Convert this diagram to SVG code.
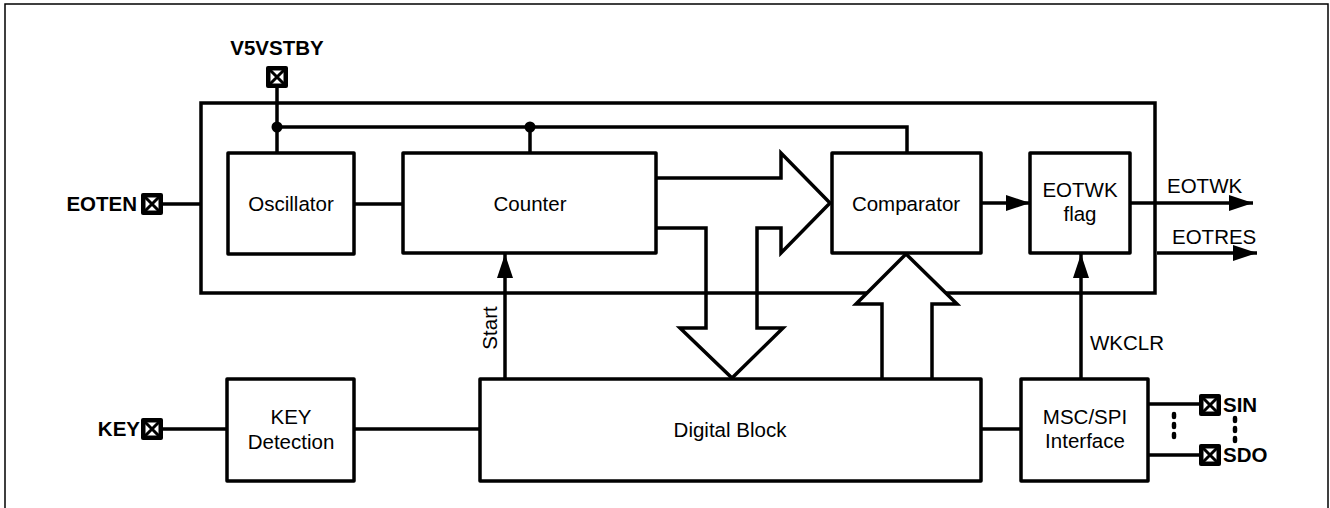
<svg xmlns="http://www.w3.org/2000/svg" width="1330" height="508" viewBox="0 0 1330 508">
<style>
.box{fill:#fff;stroke:#000;stroke-width:3.5;stroke-linejoin:round}
.w{fill:none;stroke:#000;stroke-width:3.5}
.t{font-family:"Liberation Sans",Arial,sans-serif;font-size:20.5px;fill:#000}
.b{font-family:"Liberation Sans",Arial,sans-serif;font-size:20.5px;font-weight:bold;fill:#000}
.m{text-anchor:middle}
.dot{stroke:#000;stroke-width:4.5;stroke-linecap:round;stroke-dasharray:3 7;fill:none}
</style>
<defs>
<marker id="ah" markerUnits="userSpaceOnUse" markerWidth="24" markerHeight="16" refX="24" refY="8" orient="auto" viewBox="0 0 24 16">
<path d="M0,0 L24,8 L0,16 z" fill="#000"/>
</marker>
<g id="pin">
<rect x="-11" y="-11" width="22" height="22" rx="2" fill="#000"/>
<rect x="-6.5" y="-6.5" width="13" height="13" fill="#fff"/>
<path d="M-7,-7 L7,7 M7,-7 L-7,7" stroke="#000" stroke-width="3"/>
</g>
</defs>
<rect width="1330" height="508" fill="#fff"/>
<rect x="5" y="4" width="1323" height="520" fill="none" stroke="#000" stroke-width="1.5"/>

<g id="main-block">
<rect x="201" y="103" width="954" height="190" fill="none" stroke="#000" stroke-width="3.5"/>
</g>

<g id="connectors">
<path class="w" d="M277,88 V153 M277,127 H907 V153 M530,127 V153"/>
<circle cx="277" cy="127" r="5.5" fill="#000"/>
<circle cx="530" cy="127" r="5.5" fill="#000"/>
<path class="w" d="M163,204 H201"/>
<path class="w" d="M354,204 H403"/>
<path class="w" d="M163,429 H227 M354,429 H480 M981,429 H1021"/>
<path class="w" d="M1148,404 H1200 M1148,455 H1200"/>
<line class="dot" x1="1174" y1="414" x2="1174" y2="440"/>
<line class="dot" x1="1235" y1="418" x2="1235" y2="444"/>
<line class="w" x1="981" y1="203" x2="1030" y2="203" marker-end="url(#ah)"/>
<line class="w" x1="1130" y1="203" x2="1253" y2="203" marker-end="url(#ah)"/>
<line class="w" x1="1157" y1="253" x2="1257" y2="253" marker-end="url(#ah)"/>
<line class="w" x1="505" y1="379" x2="505" y2="254" marker-end="url(#ah)"/>
<line class="w" x1="1081" y1="379" x2="1081" y2="254" marker-end="url(#ah)"/>
<path class="w" stroke-linejoin="miter" d="M656,178 H781 V153 L830,203 L781,253 V228 H757 V328 H783 L732,378 L680,328 H706 V228 H656"/>
<path fill="#fff" stroke="#000" stroke-width="3.5" d="M882,380 V304 H856 L906,254 L957,304 H932 V380"/>
<text class="t" transform="translate(497,328) rotate(-90)" text-anchor="middle">Start</text>
<text class="t" x="1167" y="193">EOTWK</text>
<text class="t" x="1172" y="244">EOTRES</text>
<text class="t" x="1090" y="350">WKCLR</text>
</g>

<g id="pin-v5vstby">
<use href="#pin" x="277" y="77"/>
<text class="b m" x="277" y="55">V5VSTBY</text>
</g>
<g id="pin-eoten">
<use href="#pin" x="152" y="204"/>
<text class="b" x="137" y="211" text-anchor="end">EOTEN</text>
</g>
<g id="pin-key">
<use href="#pin" x="152" y="429"/>
<text class="b" x="140" y="436" text-anchor="end">KEY</text>
</g>
<g id="pin-sin">
<use href="#pin" x="1210" y="405"/>
<text class="b" x="1223" y="412">SIN</text>
</g>
<g id="pin-sdo">
<use href="#pin" x="1210" y="455"/>
<text class="b" x="1223" y="462">SDO</text>
</g>

<g id="oscillator">
<rect class="box" x="228" y="153" width="126" height="101"/>
<text class="t m" x="291" y="211">Oscillator</text>
</g>
<g id="counter">
<rect class="box" x="403" y="153" width="253" height="100"/>
<text class="t m" x="530" y="211">Counter</text>
</g>
<g id="comparator">
<rect class="box" x="832" y="153" width="149" height="100"/>
<text class="t m" x="906" y="211">Comparator</text>
</g>
<g id="eotwk-flag">
<rect class="box" x="1030" y="153" width="100" height="100"/>
<text class="t m" x="1080" y="197">EOTWK</text>
<text class="t m" x="1080" y="221">flag</text>
</g>
<g id="key-detection">
<rect class="box" x="227" y="379" width="127" height="102"/>
<text class="t m" x="291" y="424">KEY</text>
<text class="t m" x="291" y="449">Detection</text>
</g>
<g id="digital-block">
<rect class="box" x="480" y="379" width="501" height="102"/>
<text class="t m" x="730" y="437">Digital Block</text>
</g>
<g id="msc-spi">
<rect class="box" x="1021" y="379" width="127" height="102"/>
<text class="t m" x="1085" y="424">MSC/SPI</text>
<text class="t m" x="1085" y="448">Interface</text>
</g>
</svg>
